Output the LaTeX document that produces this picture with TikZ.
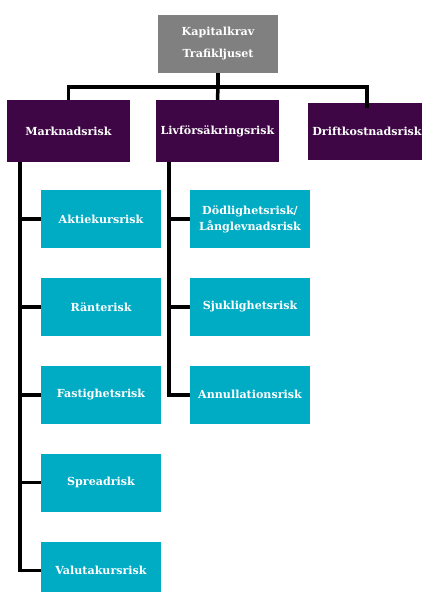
\documentclass[tikz,border=0pt]{standalone}
\usepackage{fontspec}
\setmainfont{DejaVu Serif}
\usepackage{xcolor}
\usetikzlibrary{positioning}
\definecolor{kk-gray}{RGB}{128, 128, 128}
\definecolor{kk-purple}{RGB}{62, 6, 68}
\definecolor{kk-teal}{RGB}{0, 172, 196}

\begin{document}
\begin{tikzpicture}[x=1pt, y=-1pt,
    box/.style={rectangle, inner sep=0pt, align=center,
                font=\fontsize{11.1}{16}\selectfont\bfseries, text=white},
    topbox/.style={box, fill=kk-gray, minimum width=120pt, minimum height=58pt},
    catbox/.style={box, fill=kk-purple, minimum width=123pt, minimum height=62pt},
    subbox/.style={box, fill=kk-teal, minimum width=120pt, minimum height=58pt},
    conn/.style={line width=3.5pt, color=black}
  ]
    \useasboundingbox (0,0) rectangle (422,592);

    % top and the three categories
    \node[topbox] (top) at (218,44) {Kapitalkrav\\[6pt]Trafikljuset};
    \node[catbox] (mark) at (68.5,131) {Marknadsrisk};
    \node[catbox] (livf) at (217.5,131) {Livförsäkringsrisk};
    \node[catbox, minimum width=118pt, minimum height=57pt] (drift) at (367,131.5) {Driftkostnadsrisk};

    % market risks
    \node[subbox] (aktie) at (101,219) {Aktiekursrisk};
    \node[subbox, below=29.5pt of aktie] (ranta) {Ränterisk};
    \node[subbox, below=29.5pt of ranta] (fast)  {Fastighetsrisk};
    \node[subbox, below=29.5pt of fast]  (spread) {Spreadrisk};
    \node[subbox, below=29.5pt of spread] (valuta) {Valutakursrisk};

    % life insurance risks
    \node[subbox] (dod) at (250,219) {Dödlighetsrisk/\\Långlevnadsrisk};
    \node[subbox, below=29.5pt of dod]  (sjuk) {Sjuklighetsrisk};
    \node[subbox, below=29.5pt of sjuk] (annul) {Annullationsrisk};

    % connectors
    \coordinate (bus) at (218,87);
    \draw[conn] (top.south) -- (bus);
    \draw[conn] (mark.north) |- (bus);
    \draw[conn] (livf.north) -- (bus);
    \draw[conn] (bus) -| ([yshift=-5pt]drift.north);

    \coordinate (mtrunk) at (20,162);
    \coordinate (ltrunk) at (169,162);
    \draw[conn] (mtrunk) |- (valuta.west);
    \draw[conn] (ltrunk) |- (annul.west);
    \foreach \s in {aktie, ranta, fast, spread}
      \draw[conn] (\s.west) -- (\s.west -| mtrunk);
    \foreach \s in {dod, sjuk}
      \draw[conn] (\s.west) -- (\s.west -| ltrunk);
  \end{tikzpicture}
\end{document}
